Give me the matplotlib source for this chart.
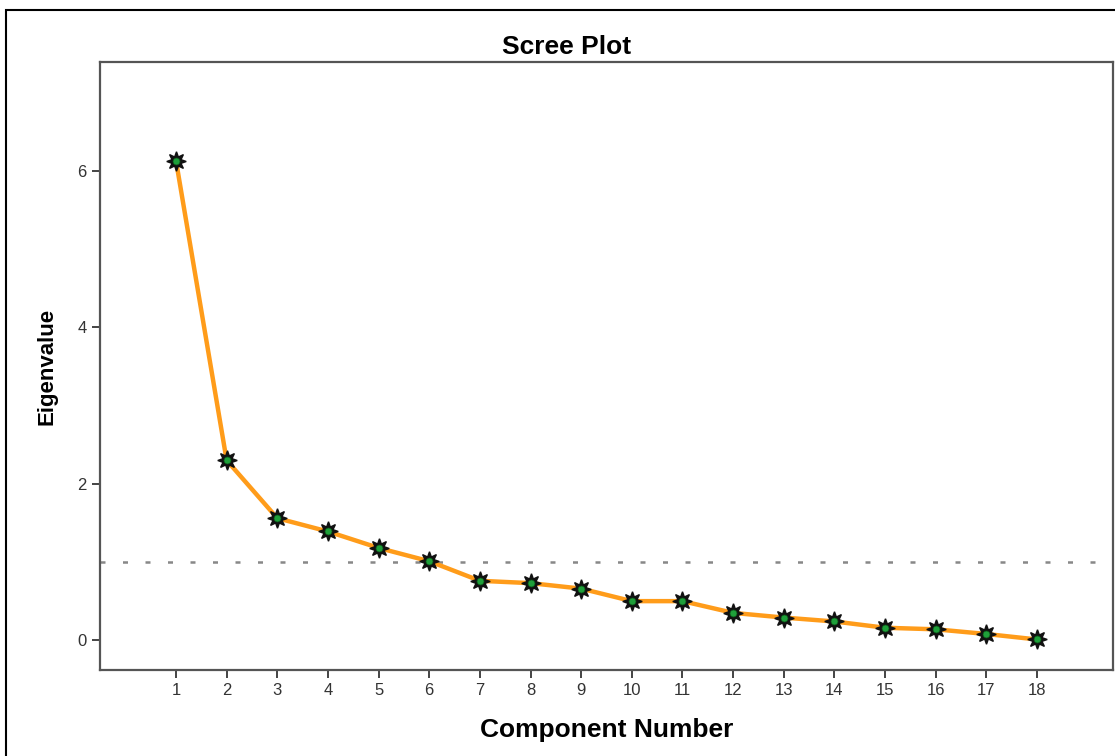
import matplotlib.pyplot as plt
from matplotlib.patches import Rectangle

# Scree plot data
components = list(range(1, 19))
eigenvalues = [6.13, 2.30, 1.56, 1.39, 1.18, 1.01, 0.76, 0.73, 0.66,
               0.50, 0.50, 0.35, 0.29, 0.24, 0.16, 0.14, 0.08, 0.01]
y_ticks = [0, 2, 4, 6]
cutoff = 1.0

plt.rcParams["font.family"] = ["Liberation Sans", "DejaVu Sans"]

fig = plt.figure(figsize=(11.15, 7.56), dpi=100)
ax = fig.add_axes([100 / 1115, 1 - 670 / 756, 1013 / 1115, 608 / 756])

# .. Kaiser criterion line
ax.axhline(cutoff, color="#888888", lw=1.8, ls=(0, (2, 7)))

# .. Eigenvalue line and markers
ax.plot(components, eigenvalues, color="#FF9C1A", lw=3.2, zorder=3)
ax.plot(components, eigenvalues, ls="none", marker=(8, 1, 0), ms=14,
        color="#111111", zorder=4)
ax.plot(components, eigenvalues, ls="none", marker="o", ms=5,
        color="#1FA03A", mec="#0b5a1a", mew=0.5, zorder=5)

ax.set_xlim(-0.5, 19.5)
ax.set_ylim(-0.38, 7.39)
ax.set_xticks(components)
ax.set_yticks(y_ticks)

for spine in ax.spines.values():
    spine.set_color("#555555")
    spine.set_linewidth(1.6)
ax.tick_params(axis="both", direction="out", length=6, width=1.4,
               color="#444444", labelcolor="#333333", labelsize=12)

ax.set_title("Scree Plot", fontsize=19, fontweight="bold", pad=6, x=0.461)
ax.set_xlabel("Component Number", fontsize=19, fontweight="bold", labelpad=14)
ax.set_ylabel("Eigenvalue", fontsize=16, fontweight="bold", labelpad=14)

# .. Outer frame around the figure
fig.patches.append(Rectangle((6 / 1115, -0.1), 1.2, 1 - 10 / 756 + 0.1,
                             transform=fig.transFigure, fill=False,
                             edgecolor="black", lw=1.5))

fig.savefig("out.png", dpi=100)
